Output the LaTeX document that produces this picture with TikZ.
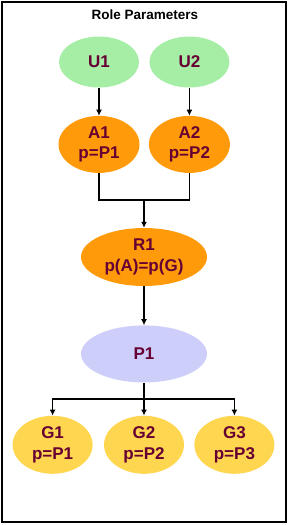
\documentclass[tikz,border=0pt]{standalone}
\usepackage{fontspec}
\setmainfont{Liberation Sans}
\usepackage{xcolor}
\usetikzlibrary{arrows.meta,positioning,shapes.geometric}
\definecolor{usergreen}{RGB}{166,238,166}
\definecolor{actorange}{RGB}{255,155,10}
\definecolor{parblue}{RGB}{206,206,250}
\definecolor{grpyellow}{RGB}{255,214,80}
\definecolor{labelred}{RGB}{102,0,51}

\tikzset{
  role/.style={ellipse, inner sep=0pt, align=center, text=labelred,
    font=\bfseries\fontsize{17}{20.5}\selectfont},
  link/.style={line width=1.5pt},
  arr/.style={link, -{Latex[length=6pt,width=6pt]}}
}

\begin{document}
\begin{tikzpicture}[x=1pt, y=-1pt]
  \useasboundingbox (0,0) rectangle (288,525);
  \draw[line width=1.2pt] (2,2) rectangle (286,522);
  \node[font=\bfseries\fontsize{13.5}{16}\selectfont] (title) at (145,15) {Role Parameters};
  % users
  \node[role, fill=usergreen, minimum width=80pt, minimum height=51pt] (u1) at (99,62) {U1};
  \node[role, fill=usergreen, minimum width=80pt, minimum height=51pt, right=10pt of u1] (u2) {U2};
  % actors
  \node[role, fill=actorange, minimum width=81pt, minimum height=57pt, below=28pt of u1] (a1) {A1\\p=P1};
  \node[role, fill=actorange, minimum width=81pt, minimum height=57pt, below=28pt of u2] (a2) {A2\\p=P2};
  \coordinate (join) at (144,200);
  \node[role, fill=actorange, minimum width=126pt, minimum height=58pt] (r1) at (144,257) {R1\\p(A)=p(G)};
  \node[role, fill=parblue, minimum width=126pt, minimum height=57pt, below=39pt of r1] (p1) {P1};
  \coordinate (split) at (144,399);
  % groups
  \node[role, fill=grpyellow, minimum width=80pt, minimum height=58pt, below=33pt of p1] (g2) {G2\\p=P2};
  \node[role, fill=grpyellow, minimum width=80pt, minimum height=58pt, left=11pt of g2] (g1) {G1\\p=P1};
  \node[role, fill=grpyellow, minimum width=80pt, minimum height=58pt, right=10pt of g2] (g3) {G3\\p=P3};
  \draw[arr] (u1) -- (a1);
  \draw[arr] (u2) -- (a2);
  \draw[link] (a1.south) |- (join) -| (a2.south);
  \draw[arr] (join) -- (r1);
  \draw[arr] (r1) -- (p1);
  \draw[link] (p1) -- (split);
  \draw[arr] (split) -| (g1.north);
  \draw[arr] (split) -- (g2);
  \draw[arr] (split) -| (g3.north);
\end{tikzpicture}
\end{document}
